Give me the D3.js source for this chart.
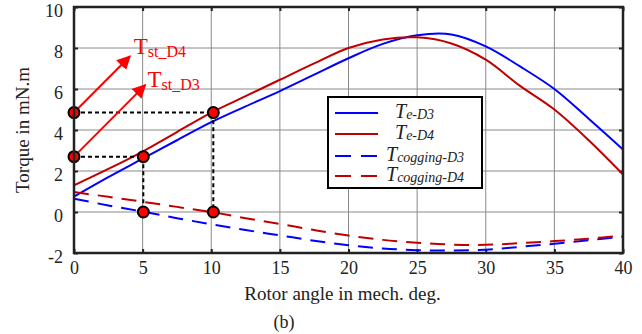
<!DOCTYPE html>
<html lang="en">
<head>
<meta charset="UTF-8">
<title>Torque vs rotor angle</title>
<script src="https://d3js.org/d3.v7.min.js"></script>
<style>
  body { margin: 0; background: #fff; }
</style>
</head>
<body>
<div id="chart"></div>
<script>
const FONT = '"Liberation Serif"';

// rotor angle samples (mech. deg.)
const angle = [0, 2.5, 5, 7.5, 10, 12.5, 15, 17.5, 20, 22.5, 25, 27.5, 30, 32.5, 35, 37.5, 40];
const teD3 = [0.75, 1.7, 2.6, 3.5, 4.38, 5.15, 5.9, 6.7, 7.5, 8.2, 8.62, 8.66, 8.08, 7.1, 6.0, 4.55, 3.05];
const teD4 = [1.3, 2.1, 2.95, 3.9, 4.85, 5.65, 6.45, 7.25, 8.0, 8.42, 8.52, 8.22, 7.43, 6.15, 5.0, 3.5, 1.83];
const cogD3 = [0.65, 0.32, 0.02, -0.3, -0.6, -0.88, -1.14, -1.4, -1.62, -1.78, -1.86, -1.88, -1.84, -1.7, -1.55, -1.38, -1.2];
const cogD4 = [0.97, 0.74, 0.5, 0.25, 0.0, -0.3, -0.58, -0.88, -1.15, -1.36, -1.5, -1.59, -1.6, -1.52, -1.42, -1.3, -1.15];

const xTicks = [0, 5, 10, 15, 20, 25, 30, 35, 40];
const yTicks = [-2, 0, 2, 4, 6, 8, 10];

// starting-torque markers and their guide lines
const markers = [[0, 4.85], [0, 2.7], [5.05, 2.7], [5.05, 0], [10.15, 4.85], [10.15, 0]];
const guides = [
  [[0, 4.85], [10.15, 4.85], [10.15, 0]],
  [[0, 2.7], [5.05, 2.7], [5.05, 0]]
];
const arrows = [
  {from: [0, 4.85], to: [4.08, 7.6], label: "st_D4", at: [4.35, 7.7]},
  {from: [0, 2.7], to: [5.2, 6.2], label: "st_D3", at: [5.35, 6.1]}
];

const series = [
  {name: "e-D3", values: teD3, color: "#0000ff", dash: null},
  {name: "e-D4", values: teD4, color: "#c00000", dash: null},
  {name: "cogging-D3", values: cogD3, color: "#0000ff", dash: "15,9"},
  {name: "cogging-D4", values: cogD4, color: "#c00000", dash: "15,9"}
];

const W = 642, H = 334;
const margin = {top: 7, right: 19, bottom: 81, left: 74};
const width = W - margin.left - margin.right,
      height = H - margin.top - margin.bottom;

const svg = d3.select("#chart").append("svg")
  .attr("width", W).attr("height", H);
const g = svg.append("g").attr("transform", `translate(${margin.left},${margin.top})`);

const x = d3.scaleLinear().domain([0, 40]).range([0, width]);
const y = d3.scaleLinear().domain([-2, 10]).range([height, 0]);

// grid
g.append("g").selectAll("line").data(xTicks).enter().append("line")
  .attr("x1", d => x(d)).attr("x2", d => x(d))
  .attr("y1", 0).attr("y2", height)
  .attr("stroke", "#8a8a8a").attr("stroke-width", 1);
g.append("g").selectAll("line").data(yTicks).enter().append("line")
  .attr("x1", 0).attr("x2", width)
  .attr("y1", d => y(d)).attr("y2", d => y(d))
  .attr("stroke", "#8a8a8a").attr("stroke-width", 1);

// axes with inward ticks on all sides
function styleAxis(sel) {
  sel.select(".domain").remove();
  sel.selectAll(".tick line").attr("stroke", "#222").attr("stroke-width", 2);
  sel.selectAll(".tick text").attr("fill", "#222").style("font-size", "18px");
}
const plain = d => String(d);
g.append("g").attr("transform", `translate(0,${height})`)
  .call(d3.axisBottom(x).tickValues(xTicks).tickFormat(plain).tickSizeInner(-4).tickPadding(8))
  .call(styleAxis);
g.append("g")
  .call(d3.axisLeft(y).tickValues(yTicks).tickFormat(plain).tickSizeInner(-4).tickPadding(11))
  .call(styleAxis)
  .call(s => s.selectAll(".tick text").attr("dy", "0.5em"));
g.append("g")
  .call(d3.axisTop(x).tickValues(xTicks).tickSizeInner(-4).tickFormat(""))
  .call(styleAxis);
g.append("g").attr("transform", `translate(${width},0)`)
  .call(d3.axisRight(y).tickValues(yTicks).tickSizeInner(-4).tickFormat(""))
  .call(styleAxis);

// curves
const line = d3.line()
  .x((d, i) => x(angle[i]))
  .y(d => y(d))
  .curve(d3.curveCatmullRom);

svg.append("defs").append("clipPath").attr("id", "clip")
  .append("rect").attr("width", width).attr("height", height);

g.append("g").attr("clip-path", "url(#clip)")
  .selectAll("path").data(series).enter().append("path")
  .attr("d", d => line(d.values))
  .attr("fill", "none")
  .attr("stroke", d => d.color)
  .attr("stroke-width", 2)
  .attr("stroke-dasharray", d => d.dash);

// dotted guides
const guideLine = d3.line().x(d => x(d[0])).y(d => y(d[1]));
g.append("g").selectAll("path").data(guides).enter().append("path")
  .attr("d", guideLine)
  .attr("fill", "none")
  .attr("stroke", "#000")
  .attr("stroke-width", 2)
  .attr("stroke-dasharray", "4,3");

// arrows
svg.append("defs").append("marker")
  .attr("id", "head").attr("viewBox", "0 0 10 10")
  .attr("refX", 9).attr("refY", 5)
  .attr("markerWidth", 7).attr("markerHeight", 7)
  .attr("markerUnits", "strokeWidth")
  .attr("orient", "auto")
  .append("path").attr("d", "M0,0 L10,5 L0,10 Z").attr("fill", "#ff0000");

g.append("g").selectAll("line").data(arrows).enter().append("line")
  .attr("x1", d => x(d.from[0])).attr("y1", d => y(d.from[1]))
  .attr("x2", d => x(d.to[0])).attr("y2", d => y(d.to[1]))
  .attr("stroke", "#ff0000").attr("stroke-width", 2)
  .attr("marker-end", "url(#head)");

const lbl = g.append("g").selectAll("text").data(arrows).enter().append("text")
  .attr("x", d => x(d.at[0])).attr("y", d => y(d.at[1]))
  .attr("fill", "#ff0000");
lbl.append("tspan").text("T").style("font-size", "23px");
lbl.append("tspan").attr("dy", 3).text(d => d.label).style("font-size", "16px");

// markers
g.append("g").selectAll("circle").data(markers).enter().append("circle")
  .attr("cx", d => x(d[0])).attr("cy", d => y(d[1]))
  .attr("r", 5.5)
  .attr("fill", "#ff0000")
  .attr("stroke", "#000")
  .attr("stroke-width", 2);

// frame
g.append("rect").attr("width", width).attr("height", height)
  .attr("fill", "none").attr("stroke", "#222").attr("stroke-width", 2.5);

// legend
const legend = svg.append("g").attr("transform", "translate(328,97)");
legend.append("rect").attr("width", 154).attr("height", 91)
  .attr("fill", "#fff").attr("stroke", "#000").attr("stroke-width", 2);
const item = legend.selectAll("g.item").data(series).enter().append("g")
  .attr("class", "item")
  .attr("transform", (d, i) => `translate(0,${[16, 37, 59, 79][i]})`);
item.append("line")
  .attr("x1", 7).attr("x2", 50)
  .attr("stroke", d => d.color).attr("stroke-width", 2)
  .attr("stroke-dasharray", d => d.dash ? "16,10" : null);
const lt = item.append("text")
  .attr("x", (d, i) => i < 2 ? 67 : 58).attr("y", 5)
  .attr("fill", "#222").style("font-style", "italic");
lt.append("tspan").text("T").style("font-size", "20px");
lt.append("tspan").attr("dy", 1).text(d => d.name).style("font-size", "14px");

// axis titles
svg.append("text")
  .attr("transform", `translate(29,${margin.top + height / 2}) rotate(-90)`)
  .attr("text-anchor", "middle").attr("fill", "#222")
  .style("font-size", "19px").text("Torque in mN.m");
svg.append("text")
  .attr("x", margin.left + width / 2 - 6).attr("y", 300)
  .attr("text-anchor", "middle").attr("fill", "#222")
  .style("font-size", "19px").text("Rotor angle in mech. deg.");
svg.append("text")
  .attr("x", 284).attr("y", 328)
  .attr("text-anchor", "middle").attr("fill", "#222")
  .style("font-size", "18px").text("(b)");

svg.selectAll("text").style("font-family", FONT);
</script>
</body>
</html>
